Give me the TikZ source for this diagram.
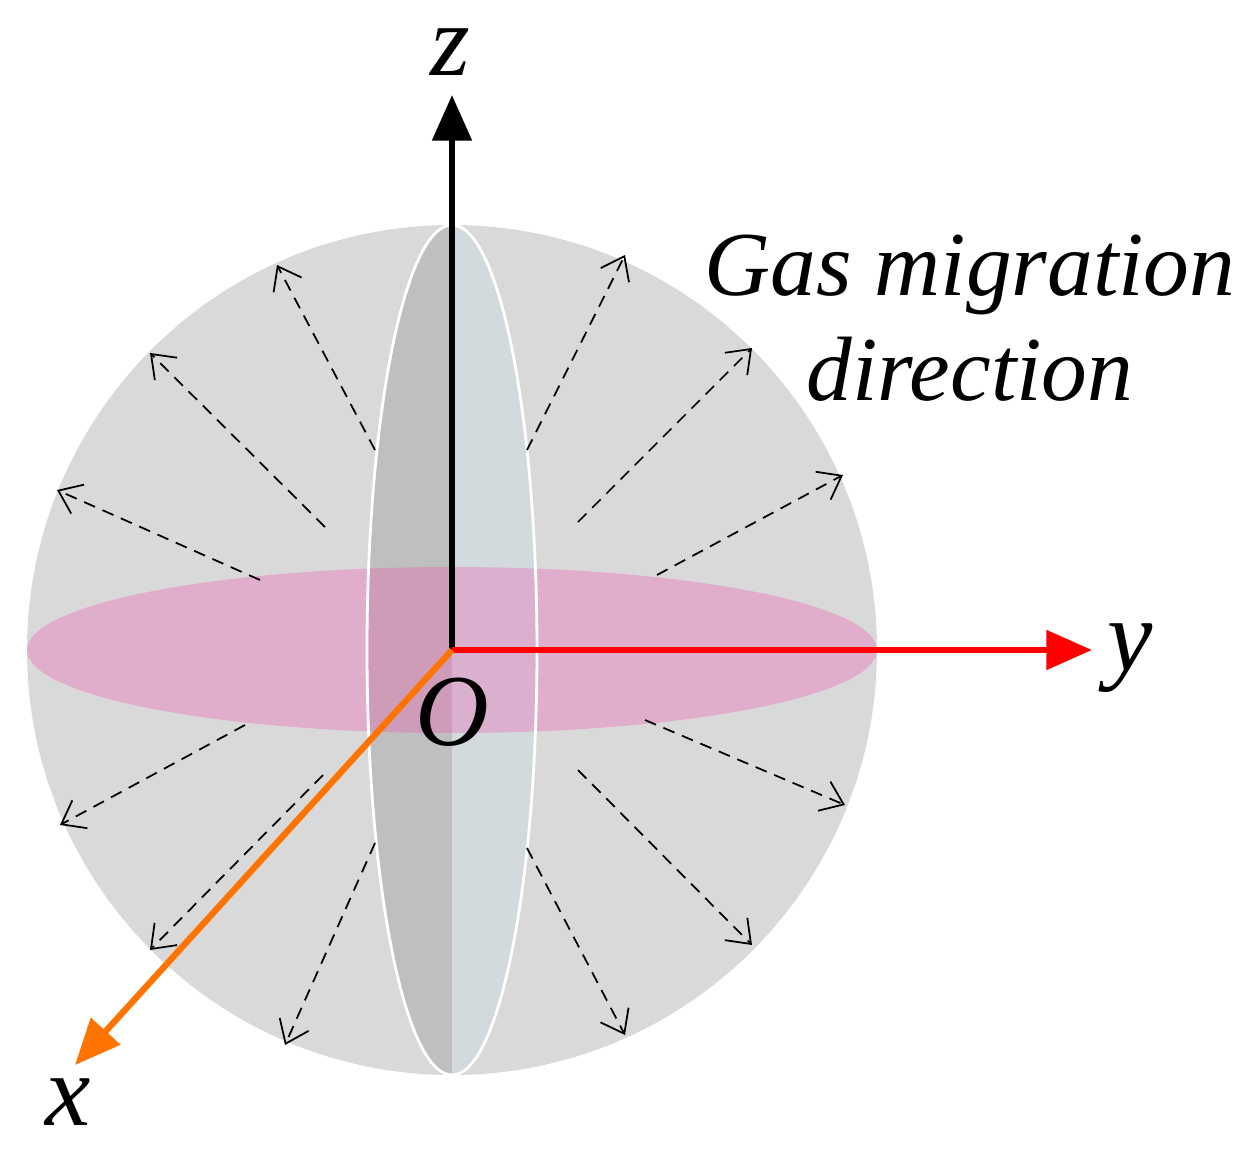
\documentclass[tikz,border=0pt]{standalone}
\usetikzlibrary{arrows.meta}
\usepackage{fontspec}
\setmainfont{Liberation Serif}
\begin{document}
\begin{tikzpicture}[x=0.01cm,y=-0.01cm,
  flow/.style={line width=0.5pt,dash pattern=on 3.4pt off 2.3pt,-{Straight Barb[length=6pt,width=9pt]}},
  axis/.style={line width=1.8pt,-{Triangle[length=13pt,width=11pt]}},
  lbl/.style={font=\itshape\fontsize{29}{32}\selectfont,inner sep=0}]
\useasboundingbox (0,0) rectangle (1256,1157);
\coordinate (O) at (452,650);
\fill[gray!30] (O) circle[radius=425];
% vertical disk
\begin{scope}
\clip (O) ellipse[x radius=85,y radius=425];
\fill[gray!50!white] (367,225) rectangle (452,1077);
\fill[cyan!15!gray!35] (452,225) rectangle (537,1077);
\end{scope}
% horizontal disk
\fill[magenta!70,opacity=0.3] (O) ellipse[x radius=425,y radius=83];
\draw[white,thick] (O) ellipse[x radius=85,y radius=425];
% arrows
\foreach \a/\b/\c/\d in {375/450/277/265,325/527/150/353,260/580/57/490,245/725/60/825,323/775/150/950,375/843/285/1045,527/450/625/255,578/522/752/348,657/575/843/475,645/720/845/805,578/770/752/945,527/848/625/1035}
  \draw[flow] (\a,\b) -- (\c,\d);
% axes
\coordinate (zt) at (452,95);
\coordinate (yt) at (1092,650);
\coordinate (xt) at (75,1065);
\draw[axis] (O) -- (zt);
\draw[axis,red] (O) -- (yt);
\draw[axis,orange!90!red] (O) -- (xt);
\node[lbl] (z) at (450,52) {z};
\node[lbl] (y) at (1130,658) {y};
\node[lbl] (x) at (68,1102) {x};
\node[lbl] (o) at (452,712) {O};
\node[lbl,font=\itshape\fontsize{26}{30}\selectfont,align=center] (t) at (970,318) {Gas migration\\direction};
\end{tikzpicture}
\end{document}
